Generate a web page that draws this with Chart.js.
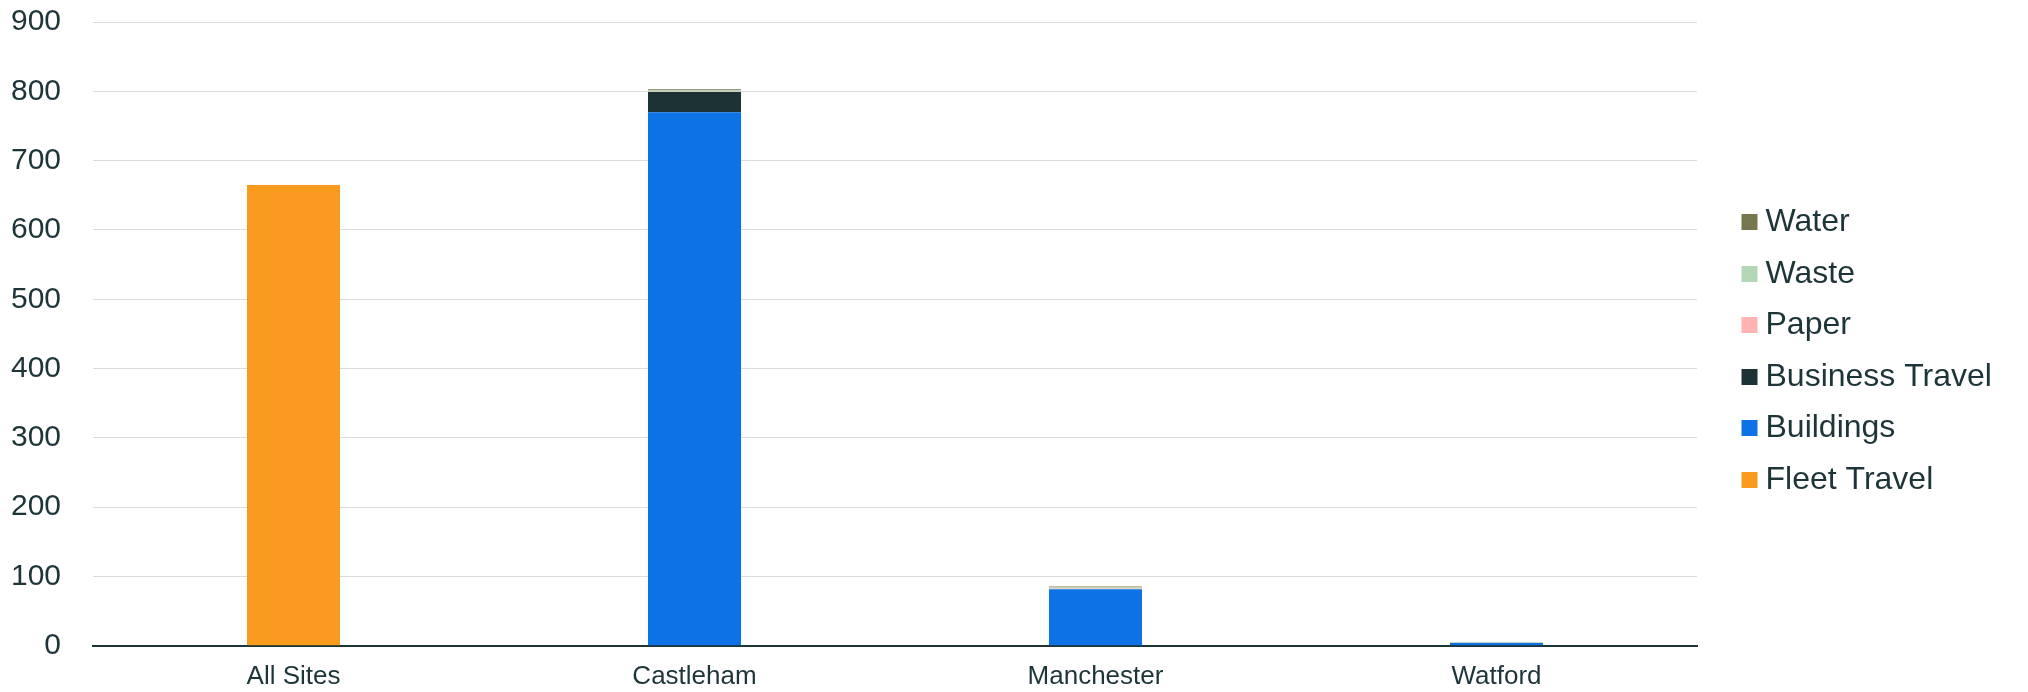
<!DOCTYPE html>
<html>
<head>
<meta charset="utf-8">
<script src="https://cdn.jsdelivr.net/npm/chart.js@4.4.1/dist/chart.umd.min.js"></script>
<style>
  html, body { margin: 0; padding: 0; background: #ffffff; }
  #wrap { width: 2028px; height: 692px; }
</style>
</head>
<body>
<div id="wrap"><canvas id="chart" width="2028" height="692"></canvas></div>
<script>
// Datos del gráfico
const sites = ['All Sites', 'Castleham', 'Manchester', 'Watford'];

const fleetTravel = [665, 0, 0, 0];
const buildings = [0, 770, 81.5, 4];
const businessTravel = [0, 29, 0, 0];
const paper = [0, 0.5, 1, 0.2];
const waste = [0, 2, 2, 0.5];
const water = [0, 1.5, 1, 0.3];

const yTicks = [0, 100, 200, 300, 400, 500, 600, 700, 800, 900];

const TEXT = '#1d3538';
const FONT = '"Liberation Sans", Arial, sans-serif';
const CLEAR = 'rgba(0,0,0,0)';

function series(label, data, color) {
  return {
    label,
    data,
    backgroundColor: color,
    borderWidth: 0,
    categoryPercentage: 0.232,
    barPercentage: 1
  };
}

// Cuadro de color de la leyenda, desplazado hacia el texto
function swatch(color) {
  const c = document.createElement('canvas');
  c.width = 32;
  c.height = 16;
  const ctx = c.getContext('2d');
  ctx.fillStyle = color;
  ctx.fillRect(9, 0, 16, 16);
  return c;
}

// Ajusta el ancho de la leyenda
const legendWidth = {
  id: 'legendWidth',
  beforeInit(chart) {
    const fit = chart.legend.fit;
    chart.legend.fit = function () {
      fit.call(this);
      this.width = 300;
    };
  }
};

new Chart(document.getElementById('chart'), {
  type: 'bar',
  data: {
    labels: sites,
    datasets: [
      series('Fleet Travel', fleetTravel, '#f99b1e'),
      series('Buildings', buildings, '#0d72e6'),
      series('Business Travel', businessTravel, '#1c3234'),
      series('Paper', paper, '#ffb3b3'),
      series('Waste', waste, '#b3d6b5'),
      series('Water', water, '#76764f')
    ]
  },
  options: {
    responsive: false,
    animation: false,
    layout: { padding: { top: 10, right: 0, bottom: 0, left: 0 } },
    plugins: {
      tooltip: { enabled: false },
      legend: {
        position: 'right',
        reverse: true,
        labels: {
          color: TEXT,
          font: { family: FONT, size: 32 },
          boxWidth: 16,
          boxHeight: 16,
          usePointStyle: true,
          pointStyleWidth: 2,
          padding: 19.5,
          generateLabels(chart) {
            const items = Chart.defaults.plugins.legend.labels.generateLabels(chart);
            items.forEach(item => { item.pointStyle = swatch(item.fillStyle); });
            return items;
          }
        }
      }
    },
    scales: {
      x: {
        stacked: true,
        grid: { display: true, drawOnChartArea: false, drawTicks: true, tickLength: 15, tickColor: CLEAR },
        border: { display: true, color: TEXT, width: 2 },
        ticks: { color: TEXT, font: { family: FONT, size: 26 }, padding: 0 }
      },
      y: {
        stacked: true,
        min: 0,
        max: 900,
        afterFit(scale) { scale.width = 93; },
        afterBuildTicks(scale) { scale.ticks = yTicks.map(v => ({ value: v })); },
        grid: { color: '#dcdcdc', lineWidth: 1, drawTicks: true, tickLength: 32, tickColor: CLEAR },
        border: { display: false },
        ticks: { color: TEXT, font: { family: FONT, size: 30, lineHeight: 1.47 }, padding: 0 }
      },
      gap: {
        type: 'linear',
        position: 'right',
        display: true,
        afterFit(scale) { scale.width = 31; },
        grid: { display: false, drawTicks: false },
        border: { display: false },
        ticks: { display: false }
      }
    }
  },
  plugins: [legendWidth]
});
</script>
</body>
</html>
